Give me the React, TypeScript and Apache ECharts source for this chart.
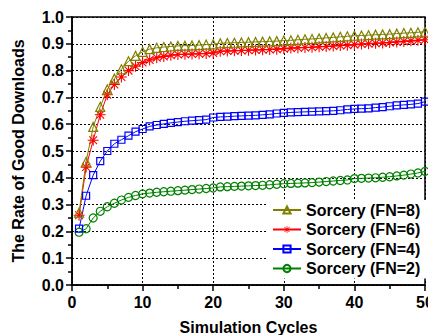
import React, { useEffect, useRef } from "react";
import * as echarts from "echarts";

const cycles: number[] = Array.from({ length: 50 }, (_, i) => i + 1);

const fn8: number[] = [
  0.27, 0.46, 0.59, 0.665, 0.73, 0.77, 0.805, 0.835, 0.855, 0.87,
  0.88, 0.885, 0.888, 0.89, 0.892, 0.893, 0.894, 0.895, 0.897, 0.898,
  0.902, 0.903, 0.904, 0.905, 0.906, 0.907, 0.908, 0.909, 0.91, 0.912,
  0.913, 0.915, 0.917, 0.918, 0.92, 0.922, 0.924, 0.926, 0.928, 0.93,
  0.931, 0.932, 0.934, 0.935, 0.936, 0.938, 0.94, 0.941, 0.943, 0.945,
];
const fn6: number[] = [
  0.26, 0.44, 0.54, 0.635, 0.71, 0.748, 0.776, 0.8, 0.816, 0.83,
  0.84, 0.848, 0.853, 0.857, 0.86, 0.861, 0.862, 0.863, 0.864, 0.866,
  0.872, 0.873, 0.874, 0.875, 0.876, 0.877, 0.878, 0.879, 0.88, 0.882,
  0.884, 0.885, 0.886, 0.887, 0.889, 0.89, 0.892, 0.894, 0.895, 0.897,
  0.899, 0.9, 0.902, 0.903, 0.905, 0.907, 0.909, 0.911, 0.913, 0.915,
];
const fn4: number[] = [
  0.21, 0.333, 0.41, 0.462, 0.5, 0.527, 0.542, 0.557, 0.572, 0.582,
  0.592, 0.597, 0.601, 0.605, 0.608, 0.611, 0.613, 0.615, 0.617, 0.625,
  0.627, 0.628, 0.63, 0.631, 0.632, 0.633, 0.635, 0.637, 0.64, 0.642,
  0.644, 0.645, 0.646, 0.647, 0.648, 0.649, 0.65, 0.652, 0.655, 0.657,
  0.658, 0.659, 0.662, 0.664, 0.667, 0.67, 0.672, 0.674, 0.677, 0.684,
];
const fn2: number[] = [
  0.197, 0.21, 0.25, 0.275, 0.292, 0.305, 0.317, 0.327, 0.334, 0.34,
  0.343, 0.346, 0.348, 0.35, 0.352, 0.354, 0.356, 0.358, 0.36, 0.362,
  0.366, 0.367, 0.368, 0.369, 0.37, 0.371, 0.372, 0.374, 0.376, 0.378,
  0.379, 0.38, 0.381, 0.382, 0.384, 0.386, 0.388, 0.39, 0.392, 0.397,
  0.398, 0.399, 0.4, 0.402, 0.404, 0.407, 0.41, 0.414, 0.418, 0.424,
];

const seriesNames: string[] = [
  "Sorcery (FN=8)",
  "Sorcery (FN=6)",
  "Sorcery (FN=4)",
  "Sorcery (FN=2)",
];

const FONT = "'Liberation Sans', Arial, sans-serif";

const STAR =
  "path://M-1,-10 L1,-10 L1,10 L-1,10 Z M-10,-1 L10,-1 L10,1 L-10,1 Z " +
  "M-6.4,-7.8 L7.8,6.4 L6.4,7.8 L-7.8,-6.4 Z M6.4,-7.8 L7.8,-6.4 L-6.4,7.8 L-7.8,6.4 Z";

function pairs(vals: number[]): number[][] {
  return vals.map((v, i) => [cycles[i], v]);
}

export default function App() {
  const ref = useRef<HTMLDivElement>(null);
  useEffect(() => {
    if (!ref.current) return;
    const chart = echarts.init(ref.current, null, { renderer: "svg" });
    const mk = (
      name: string,
      vals: number[],
      color: string,
      symbol: string,
      size: number,
      fill: string,
      bw: number
    ) => ({
      name,
      type: "line",
      data: pairs(vals),
      symbol,
      symbolSize: size,
      showAllSymbol: true,
      lineStyle: { color, width: 1 },
      itemStyle: { color: fill, borderColor: color, borderWidth: bw },
      emphasis: { disabled: true },
    });
    chart.setOption({
      animation: false,
      grid: {
        left: 72,
        right: 3,
        top: 17,
        bottom: 50,
        show: true,
        borderColor: "#000",
        borderWidth: 1.5,
        backgroundColor: "transparent",
        outerBoundsMode: "none",
        containLabel: false,
      },
      legend: {
        orient: "vertical",
        left: 267,
        top: 200,
        padding: [2, 6, 2, 5],
        itemGap: 3.5,
        itemWidth: 28,
        itemHeight: 9,
        backgroundColor: "#fff",
        data: seriesNames,
        textStyle: {
          fontFamily: FONT,
          fontSize: 16,
          fontWeight: "bold",
          color: "#000",
          lineHeight: 16,
        },
      },
      xAxis: {
        type: "value",
        min: 0,
        max: 50,
        interval: 10,
        name: "Simulation Cycles",
        nameLocation: "middle",
        nameGap: 34,
        nameTextStyle: { fontFamily: FONT, fontSize: 16, fontWeight: "bold", color: "#000" },
        axisLine: { show: true, lineStyle: { color: "#000", width: 1.5 } },
        axisTick: { show: true, inside: false, length: 6, lineStyle: { color: "#000", width: 1.5 } },
        minorTick: { show: true, splitNumber: 2, length: 4, lineStyle: { color: "#000", width: 1.5 } },
        axisLabel: { fontFamily: FONT, fontSize: 16, fontWeight: "bold", color: "#000", margin: 9 },
        splitLine: { show: true, lineStyle: { color: "#000", width: 1, type: [2, 2] } },
      },
      yAxis: {
        type: "value",
        min: 0,
        max: 1,
        interval: 0.1,
        name: "The Rate of Good Downloads",
        nameLocation: "middle",
        nameGap: 46,
        nameTextStyle: { fontFamily: FONT, fontSize: 16, fontWeight: "bold", color: "#000" },
        axisLine: { show: true, lineStyle: { color: "#000", width: 1.5 } },
        axisTick: { show: true, inside: false, length: 6, lineStyle: { color: "#000", width: 1.5 } },
        minorTick: { show: true, splitNumber: 2, length: 4, lineStyle: { color: "#000", width: 1.5 } },
        axisLabel: {
          fontFamily: FONT,
          fontSize: 16,
          fontWeight: "bold",
          color: "#000",
          margin: 8,
          formatter: (v: number) => v.toFixed(1),
        },
        splitLine: { show: true, lineStyle: { color: "#000", width: 1, type: [2, 2] } },
      },
      series: [
        mk(seriesNames[3], fn2, "#008000", "circle", 8, "transparent", 1.2),
        mk(seriesNames[2], fn4, "#0000ff", "rect", 7, "transparent", 1.2),
        mk(seriesNames[1], fn6, "#ff0000", STAR, 11, "#ff0000", 0),
        mk(seriesNames[0], fn8, "#808000", "triangle", 9, "transparent", 1.2),
      ],
    });
    return () => chart.dispose();
  }, []);
  return (
    <div
      ref={ref}
      style={{ position: "absolute", left: 0, top: 0, width: 428, height: 335 }}
    />
  );
}
